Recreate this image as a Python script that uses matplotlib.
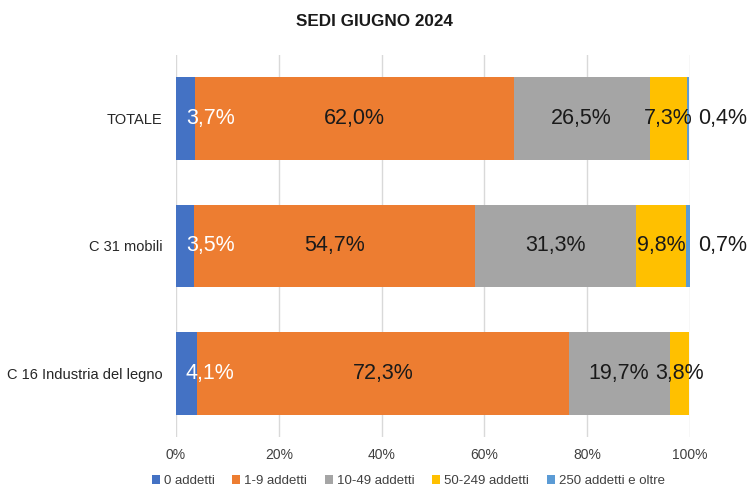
import numpy as np
import matplotlib.pyplot as plt

plt.rcParams['font.family'] = ['Liberation Sans', 'DejaVu Sans']

categories = ['TOTALE', 'C 31 mobili', 'C 16 Industria del legno']
series = ['0 addetti', '1-9 addetti', '10-49 addetti', '50-249 addetti', '250 addetti e oltre']
values = [
    [3.7, 3.5, 4.1],
    [62.0, 54.7, 72.3],
    [26.5, 31.3, 19.7],
    [7.3, 9.8, 3.8],
    [0.4, 0.7, 0.0],
]
colors = ['#4472C4', '#ED7D31', '#A5A5A5', '#FFC000', '#5B9BD5']

fig = plt.figure(figsize=(7.49, 4.91), dpi=100)
ax = fig.add_axes([0.235, 0.11, 0.686, 0.778])

y = np.arange(len(categories))
left = np.zeros(len(categories))
for i, (name, vals) in enumerate(zip(series, values)):
    vals = np.array(vals)
    ax.barh(y, vals, left=left, height=0.65, color=colors[i], label=name, zorder=2)
    for j, v in enumerate(vals):
        if v == 0:
            continue
        lab = f'{v:.1f}%'.replace('.', ',')
        if i == 0:
            ax.annotate(lab, (0, y[j]), xytext=(7, 0), textcoords='offset points',
                        ha='left', va='center', fontsize=15.5, color='white')
        elif i == len(series) - 1:
            ax.annotate(lab, (left[j] + v, y[j]), xytext=(6, 0), textcoords='offset points',
                        ha='left', va='center', fontsize=15.5, color='#1a1a1a',
                        annotation_clip=False)
        else:
            ax.text(left[j] + v / 2, y[j], lab, ha='center', va='center',
                    fontsize=15.5, color='#1a1a1a')
    left = left + vals

ax.set_xlim(0, 100)
ax.set_ylim(len(categories) - 0.5, -0.5)
ax.set_yticks(y)
ax.set_yticklabels(categories, fontsize=10.5, color='#262626')
ax.set_xticks(np.arange(0, 101, 20))
ax.set_xticklabels([f'{t}%' for t in range(0, 101, 20)], fontsize=10, color='#404040')
ax.tick_params(axis='y', length=0, pad=10)
ax.tick_params(axis='x', length=0, pad=8)
ax.grid(axis='x', color='#d9d9d9', linewidth=1, zorder=0)
for s in ax.spines.values():
    s.set_visible(False)

fig.text(0.5, 0.957, 'SEDI GIUGNO 2024', ha='center', va='center',
         fontsize=12.3, fontweight='bold', color='#1a1a1a',
         family=['Liberation Sans Narrow', 'Liberation Sans', 'DejaVu Sans'])

fig.legend(loc='center', bbox_to_anchor=(0.545, 0.02), ncol=5, frameon=False,
           fontsize=9.5, handlelength=0.6, handleheight=0.6, handletextpad=0.3,
           columnspacing=1.35, labelcolor='#404040')

fig.savefig('out.png', dpi=100)
